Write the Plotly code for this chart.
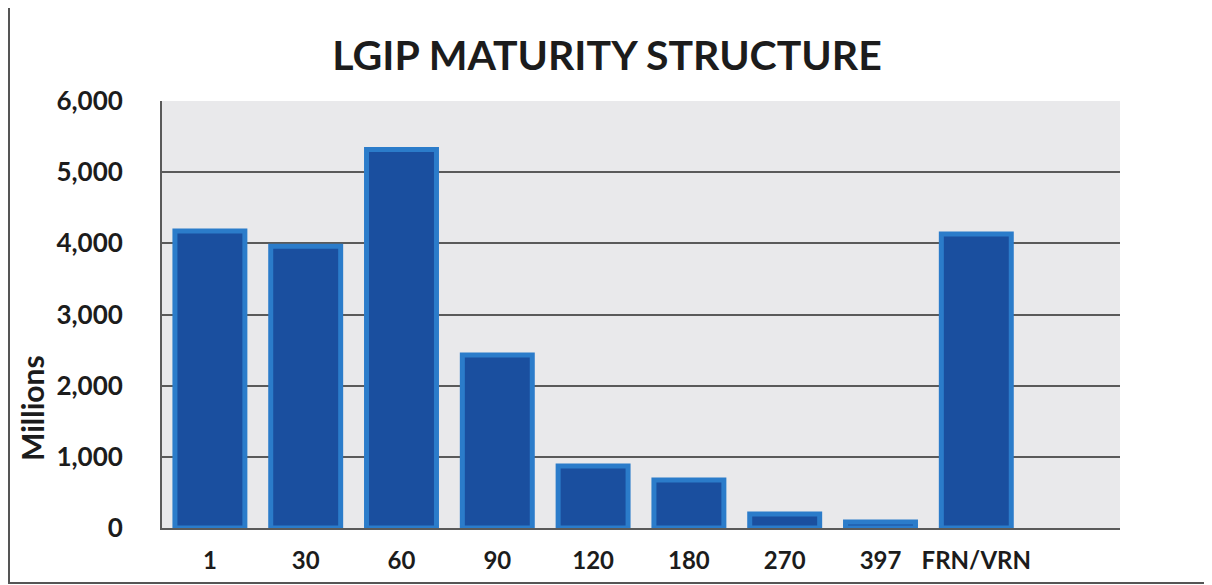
import plotly.graph_objects as go

# ── Data ──────────────────────────────────────────────────────────────────────
MATURITIES = ["1", "30", "60", "90", "120", "180", "270", "397", "FRN/VRN"]
AMOUNTS = [4175, 3960, 5320, 2430, 870, 675, 195, 85, 4130]
Y_TICKS = [0, 1000, 2000, 3000, 4000, 5000, 6000]

# ── Style ─────────────────────────────────────────────────────────────────────
BAR_FILL = "#1a4f9f"
BAR_EDGE = "#2b7cca"
PLOT_BG = "#e9e9eb"
GRID = "#5a5a5a"
TEXT = "#1c1c1c"
FONT = "Lato"

# the page body adds an 8px margin, so the figure is a bit smaller than the window
OFF = 8
W, H = 1212 - OFF, 585 - OFF
L, R, T, B = 162 - OFF, 1212 - 1120, 101 - OFF, 585 - 528
PW, PH = W - L - R, H - T - B


def px_x(px):
    # screen pixel -> paper x
    return (px - OFF - L) / PW


def px_y(py):
    # screen pixel -> paper y
    return (H - B - (py - OFF)) / PH


fig = go.Figure(go.Bar(
    x=MATURITIES,
    y=AMOUNTS,
    marker=dict(color=BAR_FILL, line=dict(color=BAR_EDGE, width=5)),
    hovertemplate="<b>%{x}</b><br>%{y:,.0f}<extra></extra>",
))

fig.update_layout(
    width=W, height=H,
    margin=dict(l=L, r=R, t=T, b=B, autoexpand=False),
    paper_bgcolor="white",
    plot_bgcolor=PLOT_BG,
    font=dict(family=FONT, color=TEXT),
    showlegend=False,
    bargap=0.27,
    title=dict(
        text="<b>LGIP MATURITY STRUCTURE</b>",
        font=dict(size=41, color=TEXT, family=FONT),
        x=px_x(607), xref="paper", xanchor="center",
        y=1 - (56 - OFF) / H, yanchor="middle",
    ),
    xaxis=dict(
        type="category",
        range=[-0.5, 9.5],
        automargin=False,
        showgrid=False,
        showline=True, linecolor=GRID, linewidth=2,
        tickfont=dict(size=24, color=TEXT, family=FONT, weight=700),
        ticks="", ticklabelstandoff=10,
    ),
    yaxis=dict(
        range=[0, 6000],
        automargin=False,
        tickvals=Y_TICKS,
        tickformat=",",
        showgrid=True, gridcolor=GRID, gridwidth=2,
        showline=True, linecolor=GRID, linewidth=2,
        zeroline=False,
        tickfont=dict(size=26, color=TEXT, family=FONT, weight=700),
        ticks="", ticklabelstandoff=32,
    ),
    annotations=[dict(
        text="<b>Millions</b>",
        textangle=-90,
        x=px_x(32), y=px_y(408), xref="paper", yref="paper",
        xanchor="center", yanchor="middle",
        showarrow=False,
        font=dict(size=30, color=TEXT, family=FONT),
    )],
    shapes=[dict(
        type="rect", xref="paper", yref="paper",
        x0=px_x(OFF + 1), x1=px_x(1209), y0=px_y(583), y1=px_y(-10),
        line=dict(color="#555555", width=2),
        layer="below",
    )],
)

fig.write_html("out.html")
